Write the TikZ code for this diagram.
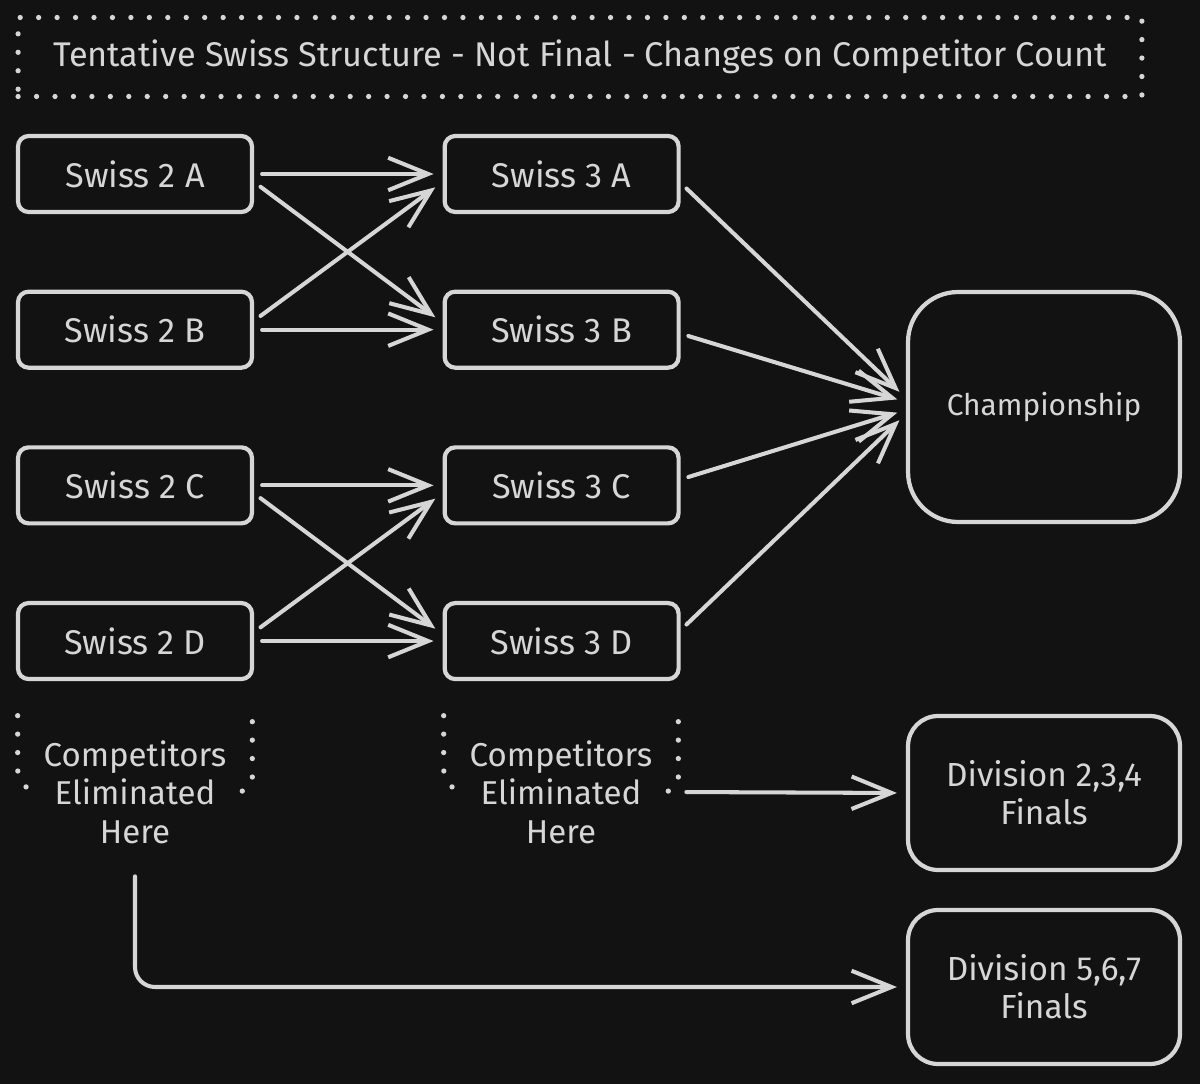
\documentclass[tikz,border=0pt]{standalone}
\usepackage{fontspec}
\setmainfont{Fira Sans}
\usetikzlibrary{arrows.meta,positioning}
\definecolor{bgdark}{RGB}{18,18,18}
\definecolor{chalk}{RGB}{214,214,214}
\tikzset{
  swissbox/.style={draw=chalk, rounded corners=6pt, line width=2.4pt,
    minimum width=4.68cm, minimum height=1.52cm, align=center, text=chalk,
    font=\fontsize{19.5}{22}\selectfont},
  champbox/.style={draw=chalk, rounded corners=1cm, line width=2.4pt,
    minimum width=5.44cm, minimum height=4.6cm, align=center, text=chalk,
    font=\fontsize{17}{22}\selectfont},
  finalbox/.style={draw=chalk, rounded corners=0.6cm, line width=2.4pt,
    minimum width=5.44cm, minimum height=3.08cm, align=center, text=chalk,
    font=\fontsize{19}{21.5}\selectfont},
  notebox/.style={align=center, text=chalk, minimum width=4.68cm,
    minimum height=3.04cm, font=\fontsize{18.8}{22}\selectfont},
  dotline/.style={draw=chalk, line width=3pt, line cap=round,
    dash pattern=on 0pt off 10.5pt},
  titlebox/.style={dotline, minimum width=22.48cm, minimum height=1.58cm,
    text=chalk, font=\fontsize{19.5}{22}\selectfont},
  flow/.style={-{Straight Barb[length=8mm,width=6.5mm]}, draw=chalk,
    line width=2.3pt, line cap=round, line join=round,
    shorten <=0.16cm, shorten >=0.18cm}
}

\begin{document}
\begin{tikzpicture}[x=0.02cm, y=-0.02cm, node distance=1.51cm and 3.77cm]
\fill[bgdark] (0,0) rectangle (1200,1084);

\node[titlebox] (title) at (580,57) {Tentative Swiss Structure - Not Final - Changes on Competitor Count};

% swiss rounds
\node[swissbox] (s2a) at (135,174) {Swiss 2 A};
\node[swissbox, below=of s2a] (s2b) {Swiss 2 B};
\node[swissbox, below=of s2b] (s2c) {Swiss 2 C};
\node[swissbox, below=of s2c] (s2d) {Swiss 2 D};
\node[swissbox, right=of s2a] (s3a) {Swiss 3 A};
\node[swissbox, right=of s2b] (s3b) {Swiss 3 B};
\node[swissbox, right=of s2c] (s3c) {Swiss 3 C};
\node[swissbox, right=of s2d] (s3d) {Swiss 3 D};

% finals
\node[champbox] (champ) at (1044,407) {Championship};
\node[finalbox] (div234) at (1044,793) {Division 2,3,4\\Finals};
\node[finalbox] (div567) at (1044,987) {Division 5,6,7\\Finals};

% eliminated
\node[notebox] (elim1) at (135,792) {Competitors\\Eliminated\\Here};
\node[notebox] (elim2) at (561,792) {Competitors\\Eliminated\\Here};
\draw[dotline, rounded corners=0.45cm] (elim1.north west) -- (elim1.west) -- ([xshift=0.45cm]elim1.west);
\draw[dotline, rounded corners=0.3cm] ([yshift=-0.12cm]elim1.north east) -- (elim1.east) -- ([xshift=-0.3cm]elim1.east);
\draw[dotline, rounded corners=0.45cm] (elim2.north west) -- (elim2.west) -- ([xshift=0.45cm]elim2.west);
\draw[dotline, rounded corners=0.3cm] ([yshift=-0.12cm]elim2.north east) -- (elim2.east) -- ([xshift=-0.3cm]elim2.east);

\draw[flow] (s2a.east) -- (s3a.west);
\draw[flow] ([yshift=-0.16cm]s2a.east) -- ([yshift=0.14cm]s3b.west);
\draw[flow] ([yshift=0.18cm]s2b.east) -- ([yshift=-0.16cm]s3a.west);
\draw[flow] (s2b.east) -- (s3b.west);
\draw[flow] (s2c.east) -- (s3c.west);
\draw[flow] ([yshift=-0.16cm]s2c.east) -- ([yshift=0.14cm]s3d.west);
\draw[flow] ([yshift=0.18cm]s2d.east) -- ([yshift=-0.16cm]s3c.west);
\draw[flow] (s2d.east) -- (s3d.west);

\draw[flow] ([yshift=-0.18cm]s3a.east) -- ([yshift=0.18cm]champ.west);
\draw[flow] ([yshift=-0.08cm]s3b.east) -- ([yshift=0.1cm]champ.west);
\draw[flow] ([yshift=0.12cm]s3c.east) -- ([yshift=-0.06cm]champ.west);
\draw[flow] ([yshift=0.22cm]s3d.east) -- ([yshift=-0.14cm]champ.west);

\draw[flow] (elim2.east) -- (div234.west);
\draw[flow, rounded corners=0.4cm] (elim1.south) |- (div567.west);
\end{tikzpicture}
\end{document}
